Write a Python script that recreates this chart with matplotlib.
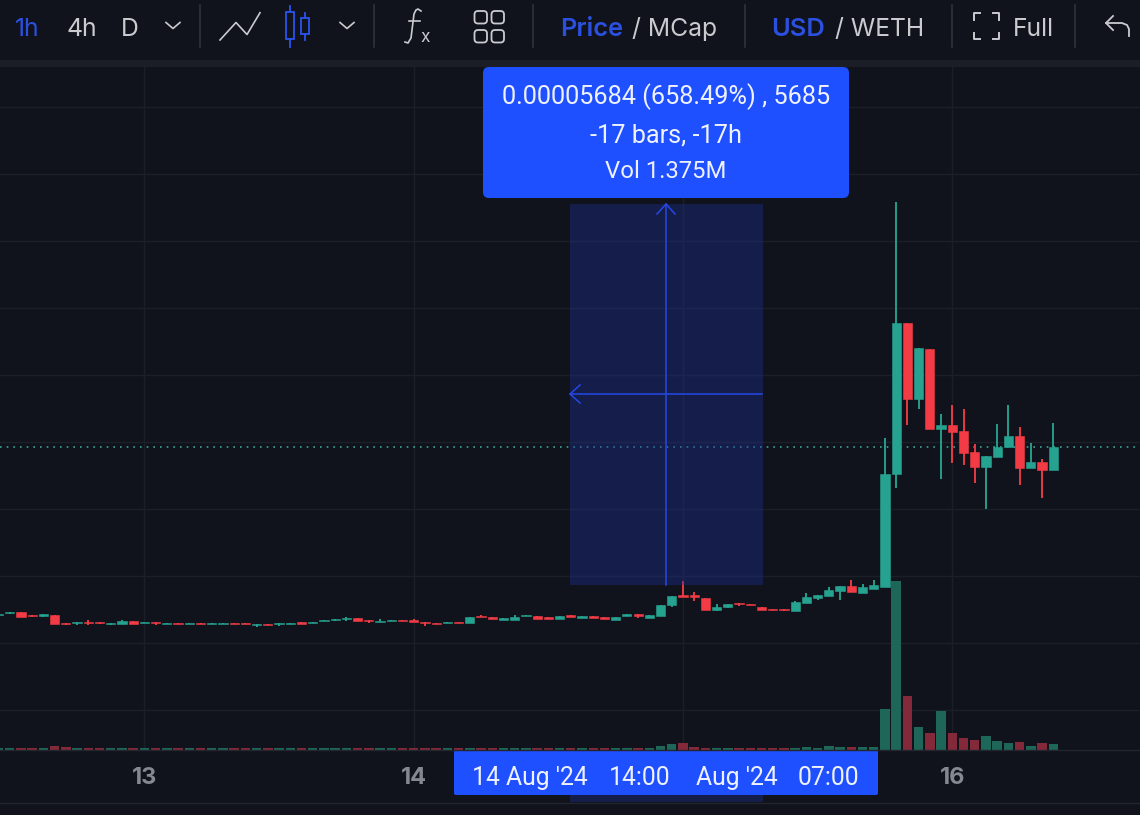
import numpy as np
import matplotlib
matplotlib.use("Agg")
import matplotlib.pyplot as plt
from matplotlib.patches import Rectangle, FancyBboxPatch

# ---------- data (price in 1e-6 USD, hours since 13 Aug 00:00, volume in thousands) ----------
hours = list(range(-13, 82))
opens = [4.22,4.39,4.57,4.12,4.06,4.16,3.02,2.93,3.16,3.16,2.82,2.82,3.31,
         2.93,3.16,2.82,3.02,2.82,3.02,2.82,2.82,3.02,3.02,
         2.67,2.87,2.78,2.82,3.07,2.97,3.27,3.37,3.52,3.76,
         3.46,3.07,3.27,3.46,3.37,3.16,3.02,2.97,3.16,2.93,
         4.01,3.82,3.46,3.42,3.97,4.01,3.87,3.57,4.16,3.76,
         4.01,3.87,3.46,4.06,4.31,3.76,4.06,5.61,7.10,7.10,
         6.66,4.91,5.31,5.95,5.81,5.40,5.10,5.10,4.76,6.00,
         6.66,7.00,7.70,8.49,7.49,8.09,8.34,25.16,47.69,36.39,
         43.90,31.92,32.47,31.62,28.44,26.25,27.78,29.18,30.92,26.10,
         26.99,25.80]
closes = [4.37,4.61,3.91,3.97,4.27,2.78,2.82,3.12,2.93,2.97,3.02,3.31,2.82,
          3.12,2.97,3.02,2.82,3.02,2.82,3.02,3.02,2.82,2.82,
          2.87,2.67,2.97,3.02,2.82,3.16,3.46,3.57,3.76,3.22,
          3.22,3.31,3.46,3.27,3.12,2.93,2.78,3.16,2.97,3.82,
          3.82,3.57,3.67,3.91,4.16,3.57,3.57,4.01,3.91,4.01,
          3.76,3.61,3.87,4.31,4.01,4.16,5.70,6.95,6.85,6.89,
          4.87,5.40,5.81,5.76,5.61,4.87,4.91,4.91,6.10,6.80,
          7.10,7.85,8.49,7.55,8.30,8.64,25.20,47.69,36.39,43.96,
          31.96,32.47,31.51,28.29,26.20,27.84,29.27,30.92,26.14,27.04,
          25.84,29.27]
highs = [4.37,4.61,4.57,4.12,4.27,4.16,3.02,3.12,3.37,3.16,3.02,3.46,3.31,
         3.12,3.16,3.02,3.02,3.02,3.02,3.02,3.02,3.02,3.02,
         2.87,2.87,2.97,3.02,3.07,3.16,3.46,3.57,3.91,3.76,
         3.46,3.52,3.46,3.46,3.52,3.16,3.02,3.16,3.16,3.82,
         4.16,3.82,3.67,4.16,4.16,4.01,3.87,4.01,4.16,4.01,
         4.01,3.87,3.87,4.31,4.31,4.16,5.70,6.95,9.24,7.64,
         6.66,5.85,5.81,5.95,5.81,5.40,5.10,5.10,6.30,7.40,
         7.10,8.39,8.49,9.39,8.79,9.39,30.57,65.78,47.69,43.96,
         43.90,34.15,35.45,34.85,29.63,27.84,32.62,35.45,32.17,29.78,
         27.39,32.77]
lows = [4.16,4.27,3.91,3.82,3.82,2.78,2.67,2.63,2.67,2.82,2.63,2.82,2.82,
        2.93,2.72,2.82,2.82,2.82,2.82,2.82,2.82,2.82,2.82,
        2.42,2.67,2.52,2.82,2.82,2.97,3.27,3.22,3.27,3.22,
        3.02,3.07,3.27,3.27,3.12,2.57,2.78,2.97,2.97,2.93,
        3.82,3.57,3.46,3.42,3.97,3.57,3.57,3.57,3.91,3.76,
        3.76,3.61,3.46,4.06,3.67,3.76,4.06,5.31,6.85,6.25,
        4.87,4.76,5.16,5.51,5.61,4.87,4.91,4.76,4.76,6.00,
        6.40,7.00,6.40,7.55,7.40,8.00,8.34,23.16,32.47,34.85,
        31.96,24.41,26.80,26.50,23.81,19.93,27.78,29.18,23.56,26.10,
        21.62,25.80]
volumes = [65,65,70,65,65,135,105,65,65,65,65,65,65,
           65,65,65,65,65,65,65,65,65,65,
           65,65,65,65,65,65,65,65,65,65,
           65,65,65,65,65,65,65,65,65,65,
           65,65,65,65,65,65,65,65,65,65,
           65,65,65,
           78,78,78,146,204,248,112,
           85,78,78,78,78,78,78,78,78,102,
           78,136,102,112,102,102,1394,5763,1846,772,
           578,1336,578,418,350,476,316,248,282,146,
           248,214]
day_ticks = [0, 24, 48, 72]
day_labels = ["13", "14", "15", "16"]
price_grid = [-10, 0, 10, 20, 30, 40, 50, 60, 70, 80]
last_price = 29.3

BG = "#10131b"
GRID = "#1b1f28"
GREEN = "#26a290"
RED = "#f23b45"
VGREEN = "#1d6658"
VRED = "#84293a"
BLUE = "#1f50ff"
TXTBLUE = "#2b50e0"
GREY = "#c9cbcf"

W, H = 1140, 815
fig = plt.figure(figsize=(W / 100, H / 100), dpi=100, facecolor=BG)
top_px, bot_px = 67, 750
ax = fig.add_axes([0, (H - bot_px) / H, 1, (bot_px - top_px) / H], facecolor=BG)
ax.set_xlim(-12.87, 88.73)
ax.set_ylim(-15.98, 85.93)
for s in ax.spines.values():
    s.set_visible(False)
ax.set_yticks(price_grid)
ax.set_xticks(day_ticks)
ax.set_xticklabels(day_labels, family="Inter", fontsize=17, fontweight="bold", color="#85888f")
ax.tick_params(axis="both", length=0, pad=12)
ax.tick_params(axis="y", labelleft=False)
ax.grid(True, color=GRID, lw=1)
ax.set_axisbelow(True)

vax = ax.twinx()
vax.set_ylim(0, 683 * 34)
vax.axis("off")
vax.patch.set_visible(False)
vcolors = [VGREEN if c >= o else VRED for o, c in zip(opens, closes)]
vax.bar(hours, volumes, width=0.84, color=vcolors, linewidth=0)

ax.set_zorder(1)
vax.set_zorder(2)
ax.patch.set_visible(True)

colors = [GREEN if c >= o else RED for o, c in zip(opens, closes)]
ax2 = ax.twinx()
ax2.set_ylim(ax.get_ylim())
ax2.axis("off")
ax2.patch.set_visible(False)
ax2.set_zorder(3)
ax2.vlines(hours, lows, highs, colors=colors, lw=1.35, zorder=3)
bottoms = [min(o, c) for o, c in zip(opens, closes)]
heights = [abs(c - o) for o, c in zip(opens, closes)]
ax2.bar(hours, heights, bottom=bottoms, width=0.82, color=colors, edgecolor=colors, linewidth=0.4, zorder=4)
ax2.axhline(last_price, color="#3aa597", lw=1.2, ls=(0, (1, 3)), zorder=2)

# ---------- overlay UI in pixel coordinates ----------
ui = fig.add_axes([0, 0, 1, 1], facecolor="none")
ui.set_zorder(10)
ui.set_xlim(0, W)
ui.set_ylim(H, 0)
ui.axis("off")

ui.add_patch(Rectangle((0, 0), W, 60, fc=BG, ec="none"))
ui.add_patch(Rectangle((0, 60), W, 7, fc="#1b1e27", ec="none"))
ui.plot([0, W], [750, 750], color="#23262f", lw=1)
ui.plot([0, W], [802.5, 802.5], color="#23262f", lw=1)

ui.add_patch(Rectangle((570, 204), 193, 381, fc="#1e2f8c", alpha=0.42, ec="none"))
ui.add_patch(Rectangle((570, 795), 193, 7, fc="#1e2f8c", alpha=0.42, ec="none"))
ABLUE = "#2547e6"
ui.plot([666, 666], [204, 585], color=ABLUE, lw=1.1)
ui.plot([570, 762], [394, 394], color=ABLUE, lw=1.1)
ui.plot([657, 666, 675], [214, 204, 214], color=ABLUE, lw=1.1)
ui.plot([580, 570, 580], [385, 394, 403], color=ABLUE, lw=1.1)

ui.add_patch(FancyBboxPatch((487, 71), 358, 123, boxstyle="round,pad=4,rounding_size=6", fc=BLUE, ec="none"))
TF = "Roboto"
ui.text(666, 97, "0.00005684 (658.49%) , 5685", color="#eef1ff", fontsize=18.2, family=TF, ha="center", va="center")
ui.text(666, 135, "-17 bars, -17h", color="#eef1ff", fontsize=18.2, family=TF, ha="center", va="center")
ui.text(666, 172, "Vol 1.375M", color="#eef1ff", fontsize=17.2, family=TF, ha="center", va="center")

ui.add_patch(FancyBboxPatch((456, 752), 420, 41, boxstyle="round,pad=2,rounding_size=2", fc=BLUE, ec="none"))
for x, s in [(472, "14 Aug '24"), (609, "14:00"), (696, "Aug '24"), (798, "07:00")]:
    ui.text(x, 778, s, color="#eef1ff", fontsize=17.8, family=TF, ha="left", va="center")

# toolbar text
TB = "Inter"
def tb(x, s, c=GREY, w="normal", fs=17.8):
    ui.text(x, 36, s, color=c, fontsize=fs, family=TB, fontweight=w, ha="left", va="baseline")
tb(15, "1h", TXTBLUE)
tb(67, "4h")
tb(121, "D")
tb(560, "Price", TXTBLUE, "semibold", 18.3)
tb(632, "/ MCap")
tb(771, "USD", TXTBLUE, "semibold", 18.3)
tb(835, "/ WETH")
tb(1013, "Full")

# separators
for x in [200, 374, 533, 745, 952, 1075]:
    ui.plot([x, x], [5, 47], color="#33363e", lw=1.1)

# chevrons
for cx in [173, 347]:
    ui.plot([cx - 7, cx, cx + 7], [22.5, 28.5, 22.5], color=GREY, lw=1.2)

# line icon
ui.plot([220, 236, 247, 260], [40, 22.5, 34.5, 12.7], color=GREY, lw=1.2)

# candle icon
CB = "#2a55f0"
ui.plot([289.5, 289.5], [6, 46.5], color=CB, lw=1.3)
ui.plot([305, 305], [12.7, 40], color=CB, lw=1.3)
ui.add_patch(Rectangle((285.5, 12), 8, 27, fc=BG, ec=CB, lw=1.3, zorder=5))
ui.add_patch(Rectangle((301, 18), 8, 15.5, fc=BG, ec=CB, lw=1.3, zorder=5))

# fx icon
ui.plot([405, 408, 411, 414, 416, 418, 421],
        [42, 43, 38, 14, 10, 9, 11], color=GREY, lw=1.2)
ui.plot([409, 420], [21, 21], color=GREY, lw=1.2)
ui.text(420, 42, "x", color=GREY, fontsize=12.5, family=TB, ha="left", va="baseline")

# grid icon
for x0 in [474.5, 491.5]:
    for y0 in [11, 30]:
        ui.add_patch(FancyBboxPatch((x0 + 3, y0 + 3), 6.5, 6.5, boxstyle="round,pad=3,rounding_size=3.5",
                                    fc="none", ec=GREY, lw=1.3))

# full-screen icon
for xs, ys in [([974, 974, 980], [20, 13, 13]), ([993, 999, 999], [13, 13, 20]),
               ([974, 974, 980], [33, 39, 39]), ([993, 999, 999], [39, 39, 33])]:
    ui.plot(xs, ys, color=GREY, lw=1.4)

# undo icon
ui.plot([1113, 1106, 1113], [16, 23, 30], color=GREY, lw=1.3)
ui.plot([1106, 1122, 1127, 1129, 1129], [23, 23, 25, 29, 36], color=GREY, lw=1.3)

fig.savefig("out.png", dpi=100, facecolor=BG)
